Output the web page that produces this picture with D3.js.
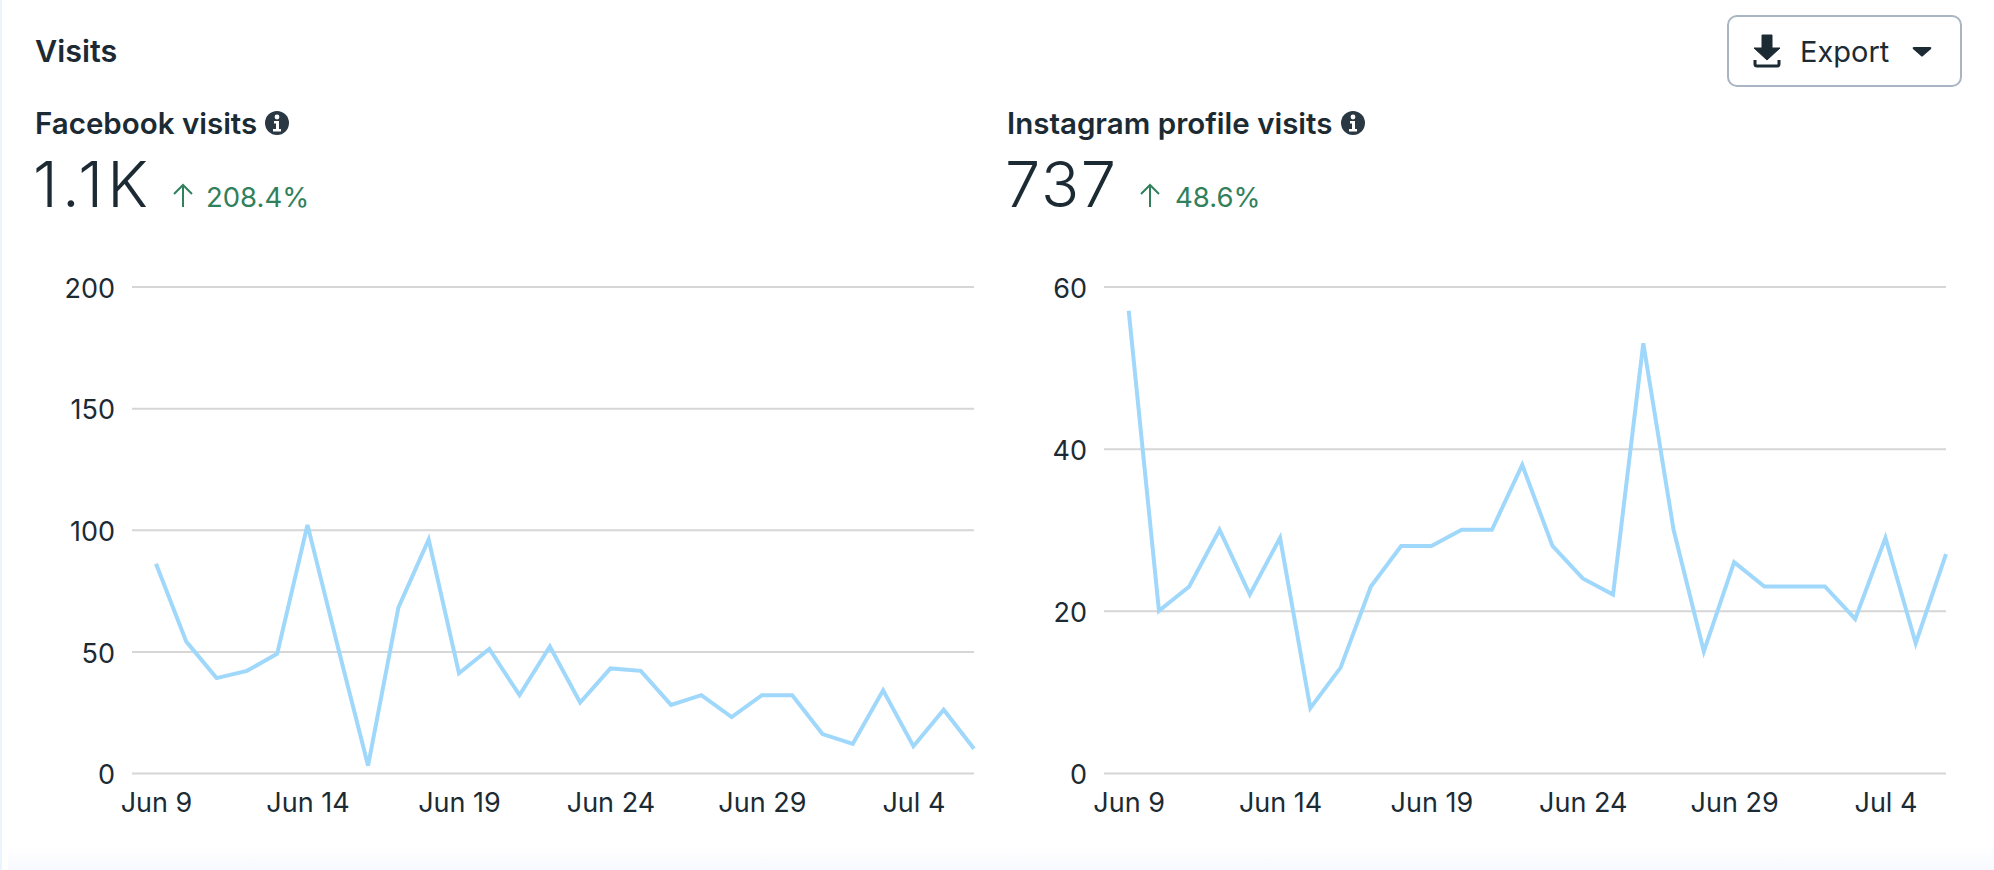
<!DOCTYPE html>
<html>
<head>
<meta charset="utf-8">
<script src="https://cdn.jsdelivr.net/npm/d3@7"></script>
<style>
  html, body { margin: 0; padding: 0; background: #fff; overflow: hidden; }
  text { font-family: Inter, "Noto Sans", sans-serif; fill: #1c2b33; }
  .domain { display: none; }
  .tick line { stroke: #d6d6d6; stroke-width: 2; }
  .tick text { font-size: 27px; fill: #1c2b33; }
  .title { font-size: 29.5px; font-weight: 600; }
  .big { font-size: 63px; font-weight: 300; }
  .delta { font-size: 27.5px; fill: #31805c; }
</style>
</head>
<body>
<script>
var svgWidth = 1994;
var svgHeight = 870;

var days = ["Jun 9", "Jun 10", "Jun 11", "Jun 12", "Jun 13", "Jun 14", "Jun 15", "Jun 16", "Jun 17", "Jun 18",
  "Jun 19", "Jun 20", "Jun 21", "Jun 22", "Jun 23", "Jun 24", "Jun 25", "Jun 26", "Jun 27", "Jun 28",
  "Jun 29", "Jun 30", "Jul 1", "Jul 2", "Jul 3", "Jul 4", "Jul 5", "Jul 6"];
var tickDays = ["Jun 9", "Jun 14", "Jun 19", "Jun 24", "Jun 29", "Jul 4"];

var facebookVisits = [86, 54, 39, 42, 49, 102, 52, 3, 68, 96, 41, 51, 32, 52, 29, 43, 42, 28, 32, 23, 32, 32, 16, 12, 34, 11, 26, 10];
var instagramVisits = [57, 20, 23, 30, 22, 29, 8, 13, 23, 28, 28, 30, 30, 38, 28, 24, 22, 53, 30, 15, 26, 23, 23, 23, 19, 29, 16, 27];
var facebookTicks = [0, 50, 100, 150, 200];
var instagramTicks = [0, 20, 40, 60];

var svg = d3.select("body")
  .append("svg")
  .attr("width", svgWidth)
  .attr("height", svgHeight)
  .style("display", "block");

// faint fade along the bottom of the card
var fade = svg.append("defs").append("linearGradient")
  .attr("id", "fade").attr("x1", 0).attr("y1", 0).attr("x2", 0).attr("y2", 1);
fade.append("stop").attr("offset", "0%").attr("stop-color", "#ffffff");
fade.append("stop").attr("offset", "100%").attr("stop-color", "#f8f9fe");

// card sits on a pale blue page, only the edges show
svg.append("rect").attr("width", svgWidth).attr("height", svgHeight).attr("fill", "#eaf4fc");
svg.append("rect").attr("x", 2).attr("y", -10).attr("width", svgWidth).attr("height", svgHeight + 20)
  .attr("rx", 10).attr("fill", "#fff");
svg.append("rect").attr("x", 8).attr("y", 845).attr("width", svgWidth - 8).attr("height", 25)
  .attr("fill", "url(#fade)");

svg.append("text").attr("class", "title").attr("x", 35).attr("y", 62).style("font-size", "30.5px").text("Visits");

function infoIcon(cx, cy) {
  var g = svg.append("g").attr("transform", `translate(${cx}, ${cy})`);
  g.append("circle").attr("r", 12).attr("fill", "#2a3843");
  g.append("circle").attr("cy", -6).attr("r", 2.4).attr("fill", "#fff");
  g.append("path").attr("d", "M-3,-2 H2 V6 H4 V8.5 H-4 V6 H-1 V0.5 H-3 Z").attr("fill", "#fff");
}

function upArrow(cx, top, bottom) {
  svg.append("path")
    .attr("d", `M${cx},${bottom} V${top + 1} M${cx - 9},${top + 10} L${cx},${top + 1} L${cx + 9},${top + 10}`)
    .attr("fill", "none")
    .attr("stroke", "#31805c")
    .attr("stroke-width", 2);
}

// draws one panel, header plus chart
function drawPanel(opts) {
  var xScale = d3.scalePoint().domain(days).range([opts.firstX, opts.right]);
  var yScale = d3.scaleLinear().domain([0, opts.ticks[opts.ticks.length - 1]]).range([773, 286.5]);

  var leftAxis = d3.axisLeft(yScale)
    .tickValues(opts.ticks)
    .tickSize(-(opts.right - opts.left))
    .tickPadding(17);
  var yAxis = svg.append("g")
    .attr("transform", `translate(${opts.left}, 0)`)
    .call(leftAxis);
  yAxis.selectAll(".tick text").attr("y", 2);

  var bottomAxis = d3.axisBottom(xScale)
    .tickValues(tickDays)
    .tickSize(0)
    .tickPadding(20);
  svg.append("g")
    .attr("transform", "translate(0, 773)")
    .call(bottomAxis);

  var line = d3.line()
    .x((d, i) => xScale(days[i]))
    .y(d => yScale(d));

  svg.append("path")
    .datum(opts.values)
    .attr("d", line)
    .attr("fill", "none")
    .attr("stroke", "#a0d8fb")
    .attr("stroke-width", 4);

  svg.append("text").attr("class", "title").attr("x", opts.headX).attr("y", 134).text(opts.title);
  infoIcon(opts.infoX, 123);
  svg.append("text").attr("class", "big").attr("x", opts.headX - 2).attr("y", 207)
    .attr("textLength", opts.totalWidth).text(opts.total);
  upArrow(opts.arrowX, 184, 207);
  svg.append("text").attr("class", "delta").attr("x", opts.deltaX).attr("y", 207).text(opts.delta);
}

drawPanel({
  values: facebookVisits, ticks: facebookTicks,
  left: 132, firstX: 156, right: 974,
  headX: 35, infoX: 277, arrowX: 183, deltaX: 206,
  title: "Facebook visits", total: "1.1K", totalWidth: 115, delta: "208.4%"
});

drawPanel({
  values: instagramVisits, ticks: instagramTicks,
  left: 1104, firstX: 1128.7, right: 1946,
  headX: 1007, infoX: 1353, arrowX: 1150, deltaX: 1175,
  title: "Instagram profile visits", total: "737", totalWidth: 111, delta: "48.6%"
});

// export button
svg.append("rect")
  .attr("x", 1728).attr("y", 16).attr("width", 233).attr("height", 70).attr("rx", 9)
  .attr("fill", "#fff").attr("stroke", "#a9b5c2").attr("stroke-width", 2);
svg.append("path")
  .attr("d", "M1762,35 H1772 V48 H1780 L1767,60 L1754,48 H1762 Z")
  .attr("fill", "#1c2b33")
  .attr("stroke", "#1c2b33").attr("stroke-width", 1).attr("stroke-linejoin", "round");
svg.append("path")
  .attr("d", "M1755,60 V64 Q1755,66 1757,66 H1777 Q1779,66 1779,64 V60")
  .attr("fill", "none").attr("stroke", "#1c2b33").attr("stroke-width", 3);
svg.append("text").attr("x", 1800).attr("y", 62).style("font-size", "29px").text("Export");
svg.append("path")
  .attr("d", "M1914,47 H1930 Q1932,47 1931,49 L1923,56 Q1922,57 1921,56 L1913,49 Q1912,47 1914,47 Z")
  .attr("fill", "#1c2b33");
</script>
</body>
</html>
